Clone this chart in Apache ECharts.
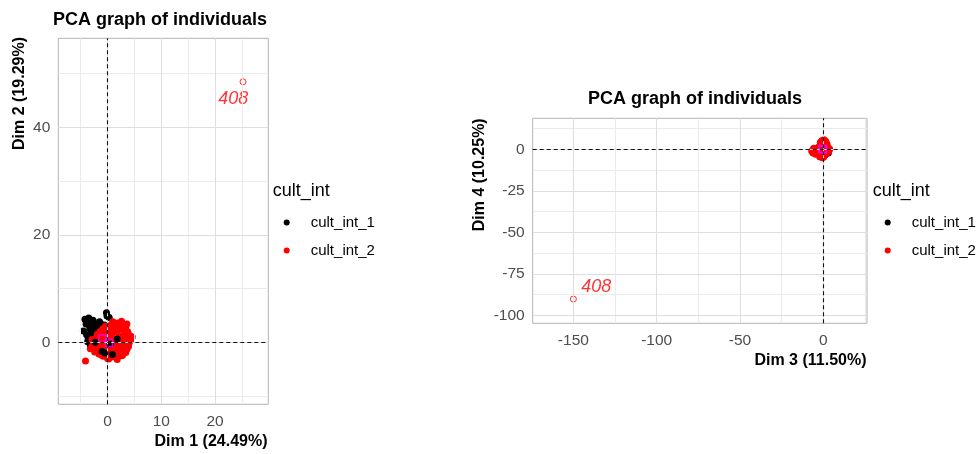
<!DOCTYPE html>
<html>
<head>
<meta charset="utf-8">
<script src="https://cdn.jsdelivr.net/npm/echarts@6/dist/echarts.min.js"></script>
<style>html,body{margin:0;padding:0;background:#fff;}#c{width:979px;height:454px;}</style>
</head>
<body>
<div id="c"></div>
<script>
// ---------- data ----------
const chartTitle = 'PCA graph of individuals';
const legendTitle = 'cult_int';
const groupNames = ['cult_int_1', 'cult_int_2'];
const axisTitles = ['Dim 1 (24.49%)', 'Dim 2 (19.29%)', 'Dim 3 (11.50%)', 'Dim 4 (10.25%)'];

// Dim1 / Dim2 (left panel)
const g1Dim1 = [-4.2,-3.8,-3.5,-3.1,-2.7,-2.3,-1.9,-1.5,-1.1,-0.6,-0.2,0.3,-4.5,-3.9,-3.3,-2.8,-2.2,-1.7,-1.2,-0.8,-0.3,-3.6,-3.0,-2.5,-2.0,-1.4,-0.9,-0.4,0.1,-3.2,-2.6,-2.1,-1.6,-1.0,-0.5,0.0,-2.9,-2.4,-1.8,-1.3,-0.7,-3.4,-2.0,-1.1,0.6,1.2,-0.5,0.9,-1.6,-2.6,2.0,0.4,-0.1,-3.7,-4.0];
const g1Dim2 = [4.3,3.9,4.5,3.6,4.1,3.3,2.9,3.8,2.6,3.2,5.5,4.6,2.1,1.4,2.5,1.8,2.2,1.6,1.9,1.2,2.4,0.6,0.9,0.3,1.1,0.5,0.8,-0.3,1.5,-0.6,-0.2,0.2,-0.8,0.0,-0.5,0.4,2.8,3.0,2.7,3.5,1.7,3.1,-1.2,-1.6,-0.3,0.4,-2.0,-2.3,-1.9,-0.9,0.7,-1.1,4.9,0.1,3.4];
const g2Dim1 = [-3.2,-2.8,-2.4,-2.0,-1.6,-1.2,-0.8,-0.4,0.0,0.4,0.8,1.2,1.6,2.0,2.4,2.8,3.2,3.6,4.0,4.4,-2.6,-2.1,-1.7,-1.3,-0.9,-0.5,-0.1,0.3,0.7,1.1,1.5,1.9,2.3,2.7,3.1,3.5,3.9,4.3,-1.9,-1.4,-1.0,-0.6,-0.2,0.2,0.6,1.0,1.4,1.8,2.2,2.6,3.0,3.4,3.8,-1.2,-0.7,-0.3,0.1,0.5,0.9,1.3,1.7,2.1,2.5,2.9,3.3,-0.9,-0.4,0.0,0.6,1.1,1.6,2.2,2.8,1.0,1.9,2.6,3.6,4.6,-4.1,-2.9,-1.8,-0.6,0.4,1.5,2.4,3.3,0.2,-1.5,2.0,1.3,-2.3,3.0,0.8,-0.2,1.7,0.5,1.8,2.6,3.4,3.9,4.2,3.7,2.4,1.2,0.2,-0.6,0.9,1.7,2.5,0.4,1.3,-1.1,-2.0,2.0,3.0];
const g2Dim2 = [-1.2,-0.6,-1.8,-0.3,-2.2,-0.9,-2.6,-1.4,-3.0,-2.0,-2.7,-1.5,-2.9,-2.1,-1.0,-2.4,-0.7,-1.3,-0.2,0.4,0.3,0.8,-0.1,0.6,-0.4,1.0,0.2,-0.8,0.7,-0.5,0.1,-0.6,0.5,-0.3,0.9,0.0,1.4,1.1,1.5,2.0,1.7,1.3,2.2,1.8,1.5,2.6,1.9,2.4,1.2,2.8,2.3,2.9,1.8,-1.9,-2.3,-1.6,-2.5,-1.1,-1.7,-2.2,-0.9,-1.4,-0.4,-1.2,0.3,2.5,3.0,2.7,3.2,3.5,3.0,3.3,2.6,3.8,3.6,3.9,3.4,1.0,-3.5,0.5,-0.4,0.6,-1.0,0.4,-0.1,-0.5,-3.1,0.9,0.0,-0.7,-1.0,0.8,1.6,2.1,-2.8,-2.8,-3.2,-2.5,-1.9,-0.8,0.6,2.0,3.6,3.3,2.6,1.8,1.9,0.6,-0.4,-1.9,-2.6,-2.4,-1.6,2.4,1.1];
// cult_int_1 individuals plotted after cult_int_2 (visible on top)
const g1FrontDim1 = [-0.5, 0.9, -1.0, 0.5, 1.8, -2.3];
const g1FrontDim2 = [-2.0, -2.3, -1.7, -0.3, 0.6, 0.0];

// Dim3 / Dim4 (right panel)
const g1Dim3 = [-1.6,3.0,-2.4,0.5,1.8,-0.8,2.2,-3.2,0.0,1.2,-1.0,2.6];
const g1Dim4 = [-3.2,-2.2,-1.0,1.5,0.2,2.4,-1.6,0.8,-2.8,3.0,0.0,1.0];
const g2Dim3 = [-7.0,-6.2,-5.4,-4.6,-3.8,-5.8,-4.2,-3.0,-2.2,-1.4,-0.6,0.2,1.0,1.8,2.6,3.4,-1.8,-0.8,0.4,1.4,2.2,-2.6,-1.2,0.0,1.2,2.8,-0.4,0.8,-3.4,-2.0,1.6,3.8];
const g2Dim4 = [-1.0,-2.2,-0.4,-3.0,-1.6,0.6,0.2,-2.6,-4.4,-3.8,-5.0,-4.6,-3.6,-2.8,-1.8,-0.8,4.2,5.4,5.8,4.8,3.2,1.6,2.8,3.6,2.0,1.2,0.6,-0.4,-0.6,0.4,-1.2,0.2];

// group centroids
const centroidDim1 = [-0.93, 0.26];
const centroidDim2 = [0.69, -0.13];
const centroidDim3 = [-0.6, -0.2];
const centroidDim4 = [0.2, 0.0];

// labelled individual
const outlierName = '408';
const outlierDim12 = [25.2, 48.5];
const outlierDim34 = [-150, -90.2];

// axis ranges and breaks
const range1 = [-9.16, 29.9], range2 = [-11.55, 56.6];
const range3 = [-174.4, 26.2], range4 = [-104.8, 18.7];
const major1 = [0, 10, 20], minor1 = [-5, 5, 15, 25];
const major2 = [0, 20, 40], minor2 = [-10, 10, 30, 50];
const major3 = [-150, -100, -50, 0], minor3 = [-125, -75, -25, 25];
const major4 = [-100, -75, -50, -25, 0], minor4 = [-87.5, -62.5, -37.5, -12.5, 12.5];

// ---------- chart ----------
const FONT = "'Liberation Sans', Arial, sans-serif";
const zip = (a, b) => a.map((v, i) => [v, b[i]]);
const BLACK = '#000000', RED = '#ff0000', MAGENTA = '#ff00ff';

function gridLines(gi, majX, minX, majY, minY) {
  const items = [];
  minX.forEach(v => items.push({ xAxis: v, lineStyle: { color: '#ebebeb', width: 1, type: 'solid' } }));
  minY.forEach(v => items.push({ yAxis: v, lineStyle: { color: '#ebebeb', width: 1, type: 'solid' } }));
  majX.forEach(v => items.push({ xAxis: v, lineStyle: { color: '#dedede', width: 1, type: 'solid' } }));
  majY.forEach(v => items.push({ yAxis: v, lineStyle: { color: '#dedede', width: 1, type: 'solid' } }));
  items.push({ xAxis: 0, lineStyle: { color: '#111', width: 1.1, type: [4, 3] } });
  items.push({ yAxis: 0, lineStyle: { color: '#111', width: 1.1, type: [4, 3] } });
  return {
    type: 'scatter', xAxisIndex: gi, yAxisIndex: gi, data: [], silent: true,
    markLine: { silent: true, symbol: 'none', label: { show: false }, data: items, animation: false }
  };
}

function pts(name, gi, data, color) {
  return {
    name: name, type: 'scatter', xAxisIndex: gi, yAxisIndex: gi, data: data,
    symbol: 'circle', symbolSize: 7, itemStyle: { color: color, opacity: 1 }
  };
}

function xAxisCfg(gi, range, ticks) {
  return {
    type: 'value', gridIndex: gi, min: range[0], max: range[1],
    axisLine: { show: false },
    axisTick: { show: true, customValues: ticks, length: 4, lineStyle: { color: '#b3b3b3', width: 1 } },
    axisLabel: { customValues: ticks, color: '#4d4d4d', fontSize: 15.5, fontFamily: FONT, margin: 9 },
    splitLine: { show: false }
  };
}
function yAxisCfg(gi, range, ticks) {
  return {
    type: 'value', gridIndex: gi, min: range[0], max: range[1],
    axisLine: { show: false },
    axisTick: { show: true, customValues: ticks, length: 4, lineStyle: { color: '#b3b3b3', width: 1 } },
    axisLabel: { customValues: ticks, color: '#4d4d4d', fontSize: 15.5, fontFamily: FONT, margin: 8 },
    splitLine: { show: false }
  };
}

const chart = echarts.init(document.getElementById('c'), null, { renderer: 'canvas' });
const legendCommon = {
  data: groupNames, orient: 'vertical', top: 212.5, itemWidth: 38, itemHeight: 6,
  icon: 'circle', itemGap: 8, padding: 0, selectedMode: false,
  textStyle: { fontSize: 15, color: '#000', fontFamily: FONT, lineHeight: 20 }
};

chart.setOption({
  animation: false,
  backgroundColor: '#ffffff',
  title: [
    { text: chartTitle, left: 53, top: 11, padding: 0, textStyle: { fontSize: 18, fontWeight: 'bold', color: '#000', fontFamily: FONT } },
    { text: chartTitle, left: 588, top: 90.5, padding: 0, textStyle: { fontSize: 18, fontWeight: 'bold', color: '#000', fontFamily: FONT } }
  ],
  legend: [
    Object.assign({}, legendCommon, { left: 283.7 }),
    Object.assign({}, legendCommon, { left: 884.7 })
  ],
  grid: [
    { left: 58.3, top: 38.3, width: 210, height: 366, show: true, borderColor: '#b3b3b3', borderWidth: 1, backgroundColor: '#fff' },
    { left: 532.7, top: 118.3, width: 334.3, height: 205, show: true, borderColor: '#b3b3b3', borderWidth: 1, backgroundColor: '#fff' }
  ],
  xAxis: [xAxisCfg(0, range1, major1), xAxisCfg(1, range3, major3)],
  yAxis: [yAxisCfg(0, range2, major2), yAxisCfg(1, range4, major4)],
  graphic: [
    { type: 'text', x: 267.5, y: 441.7, style: { text: axisTitles[0], font: 'bold 16px ' + FONT, fill: '#000', align: 'right', verticalAlign: 'middle' } },
    { type: 'text', x: 20, y: 37, rotation: Math.PI / 2, style: { text: axisTitles[1], font: 'bold 16px ' + FONT, fill: '#000', align: 'right', verticalAlign: 'middle' } },
    { type: 'text', x: 866.5, y: 361, style: { text: axisTitles[2], font: 'bold 16px ' + FONT, fill: '#000', align: 'right', verticalAlign: 'middle' } },
    { type: 'text', x: 480, y: 118.3, rotation: Math.PI / 2, style: { text: axisTitles[3], font: 'bold 16px ' + FONT, fill: '#000', align: 'right', verticalAlign: 'middle' } },
    { type: 'text', x: 272.7, y: 190.7, style: { text: legendTitle, font: '18px ' + FONT, fill: '#000', align: 'left', verticalAlign: 'middle' } },
    { type: 'text', x: 872.7, y: 190.7, style: { text: legendTitle, font: '18px ' + FONT, fill: '#000', align: 'left', verticalAlign: 'middle' } }
  ],
  series: [
    gridLines(0, major1, minor1, major2, minor2),
    gridLines(1, major3, minor3, major4, minor4),
    pts(groupNames[0], 0, zip(g1Dim1, g1Dim2), BLACK),
    pts(groupNames[1], 0, zip(g2Dim1, g2Dim2), RED),
    pts(groupNames[0], 0, zip(g1FrontDim1, g1FrontDim2), BLACK),
    pts(groupNames[0], 1, zip(g1Dim3, g1Dim4), BLACK),
    pts(groupNames[1], 1, zip(g2Dim3, g2Dim4), RED),
    {
      type: 'scatter', xAxisIndex: 0, yAxisIndex: 0, data: [outlierDim12], symbol: 'circle', symbolSize: 6,
      itemStyle: { color: 'rgba(0,0,0,0)', borderColor: RED, borderWidth: 1 },
      label: { show: true, formatter: outlierName, position: 'inside', offset: [-9.7, 17], color: RED, fontSize: 18, fontStyle: 'italic', fontFamily: FONT }
    },
    {
      type: 'scatter', xAxisIndex: 1, yAxisIndex: 1, data: [outlierDim34], symbol: 'circle', symbolSize: 6,
      itemStyle: { color: 'rgba(0,0,0,0)', borderColor: RED, borderWidth: 1 },
      label: { show: true, formatter: outlierName, position: 'inside', offset: [23, -12.3], color: RED, fontSize: 18, fontStyle: 'italic', fontFamily: FONT }
    },
    {
      type: 'scatter', xAxisIndex: 0, yAxisIndex: 0, data: zip(centroidDim1, centroidDim2), symbol: 'rect', symbolSize: 7,
      itemStyle: { color: 'rgba(0,0,0,0)', borderColor: MAGENTA, borderWidth: 1.5 }
    },
    {
      type: 'scatter', xAxisIndex: 1, yAxisIndex: 1, data: zip(centroidDim3, centroidDim4), symbol: 'rect', symbolSize: 7,
      itemStyle: { color: 'rgba(0,0,0,0)', borderColor: MAGENTA, borderWidth: 1.5 }
    }
  ]
});
</script>
</body>
</html>
